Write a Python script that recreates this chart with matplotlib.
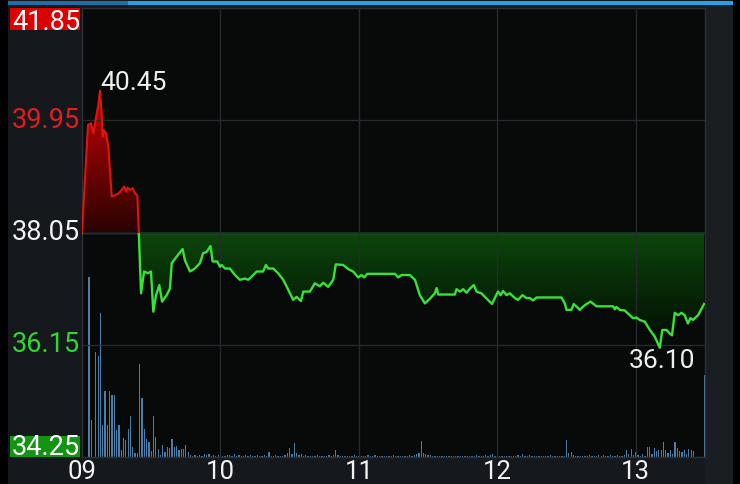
import numpy as np
import matplotlib
matplotlib.use('Agg')
import matplotlib.pyplot as plt
from matplotlib.patches import Rectangle
from matplotlib.path import Path
import matplotlib.transforms as mtransforms

plt.rcParams['font.family'] = ['Roboto', 'DejaVu Sans']

# ---------------- data ----------------
prev_close = 38.05
y_ticks = [41.85, 39.95, 38.05, 36.15, 34.25]
y_labels = ['41.85', '39.95', '38.05', '36.15', '34.25']
x_ticks = [0, 60, 120, 180, 240]
x_labels = ['09', '10', '11', '12', '13']
session_minutes = 270

price_minutes = [
    0, 2.6, 3.9, 4.9, 6.1, 7.1, 7.8, 8.5, 9.0, 9.5, 10.4, 11.4, 12.9, 14.3, 15.7,
    17.2, 18.3, 19.1, 19.8, 20.8, 22.0, 23.0, 24.0, 25.6, 26.9, 28.6, 29.9, 30.9,
    32.1, 33.5, 34.7, 36.7, 38.1, 38.9, 41.0, 43.6, 44.6, 46.8, 48.9, 51.1, 52.5,
    54.0, 55.7, 56.6, 58.6, 59.8, 60.5, 62.0, 64.1, 66.3, 68.4, 70.6, 72.0, 73.5,
    75.7, 78.5, 79.7, 80.7, 82.9, 85.0, 87.2, 89.4, 91.5, 93.0, 94.9, 95.9, 98.8,
    100.9, 103.1, 104.5, 106.7, 108.9, 110.0, 113.2, 115.4, 117.5, 119.7, 121.2,
    122.3, 123.6, 135.6, 137.0, 138.5, 142.1, 144.3, 146.4, 148.6, 150.8, 152.9,
    153.7, 154.4, 161.6, 162.3, 163.8, 165.2, 166.7, 168.1, 169.8, 171.0, 173.1,
    174.6, 176.7, 177.7, 178.9, 180.3, 181.4, 182.5, 184.0, 185.4, 187.6, 189.0,
    190.9, 192.6, 194.1, 195.5, 197.0, 207.8, 209.2, 210.0, 212.1, 213.1, 215.0,
    215.7, 217.9, 220.4, 223.0, 230.2, 230.9, 231.6, 233.1, 235.2, 237.4, 238.8,
    240.3, 241.7, 243.9, 246.1, 248.2, 250.4, 251.5, 253.3, 254.7, 255.7, 256.9,
    258.3, 259.8, 261.2, 262.6, 263.7, 264.8, 267.0, 269.6,
]
price_values = [
    38.05, 39.87, 39.90, 39.73, 40.00, 40.21, 40.45, 40.07, 39.67, 39.78, 39.73,
    39.50, 38.66, 38.68, 38.71, 38.77, 38.83, 38.74, 38.81, 38.77, 38.80, 38.71,
    38.68, 37.02, 37.39, 37.36, 37.39, 36.71, 36.99, 37.16, 36.88, 36.99, 37.10,
    37.53, 37.64, 37.77, 37.58, 37.39, 37.44, 37.53, 37.70, 37.72, 37.82, 37.56,
    37.56, 37.47, 37.50, 37.44, 37.44, 37.33, 37.25, 37.27, 37.25, 37.30, 37.39,
    37.39, 37.50, 37.44, 37.44, 37.36, 37.25, 37.08, 36.91, 36.96, 36.89, 37.05,
    37.05, 37.19, 37.14, 37.20, 37.13, 37.25, 37.51, 37.50, 37.43, 37.39, 37.29,
    37.33, 37.29, 37.35, 37.35, 37.29, 37.33, 37.33, 37.25, 36.99, 36.85, 36.93,
    37.02, 37.11, 37.00, 37.00, 37.09, 37.05, 37.09, 37.03, 37.10, 37.16, 37.05,
    37.02, 36.96, 36.88, 36.84, 36.94, 37.05, 36.99, 37.06, 36.99, 37.02, 36.94,
    36.91, 36.99, 36.94, 36.94, 36.90, 36.95, 36.95, 36.85, 36.74, 36.74, 36.84,
    36.77, 36.74, 36.82, 36.88, 36.80, 36.80, 36.75, 36.79, 36.74, 36.73, 36.65,
    36.60, 36.61, 36.57, 36.54, 36.40, 36.29, 36.10, 36.40, 36.40, 36.34, 36.31,
    36.69, 36.65, 36.69, 36.65, 36.51, 36.60, 36.57, 36.65, 36.84,
]

# one bar per minute, 09:00 .. 13:30
volume = [
    0, 0, 0, 180, 37, 0, 105, 101, 144, 32,
    66, 32, 66, 62, 62, 27, 32, 7, 19, 17,
    28, 41, 10, 4, 4, 93, 59, 28, 18, 15,
    6, 41, 20, 8, 2, 12, 5, 10, 9, 18,
    10, 11, 7, 8, 8, 12, 5, 2, 1, 2,
    1, 2, 1, 3, 2, 3, 1, 2, 1, 2,
    3, 1, 1, 2, 2, 1, 3, 1, 2, 1,
    1, 2, 1, 2, 1, 1, 2, 1, 1, 2,
    1, 5, 1, 1, 2, 1, 1, 1, 2, 4,
    9, 3, 14, 4, 2, 3, 1, 2, 1, 1,
    1, 1, 2, 1, 1, 1, 1, 2, 1, 2,
    7, 2, 1, 1, 1, 1, 1, 1, 2, 1,
    1, 1, 1, 1, 2, 1, 1, 2, 1, 1,
    1, 1, 1, 1, 1, 2, 1, 1, 1, 1,
    1, 1, 2, 1, 2, 3, 4, 16, 4, 3,
    2, 2, 1, 1, 1, 1, 1, 1, 1, 1,
    1, 1, 1, 1, 1, 1, 1, 1, 1, 1,
    1, 2, 1, 1, 1, 2, 1, 2, 3, 1,
    1, 1, 1, 1, 1, 1, 1, 1, 1, 2,
    1, 3, 1, 1, 2, 1, 1, 1, 1, 1,
    1, 1, 1, 2, 1, 1, 1, 1, 1, 1,
    17, 4, 5, 2, 1, 1, 1, 1, 1, 1,
    2, 1, 1, 1, 2, 1, 2, 1, 1, 2,
    1, 1, 2, 1, 1, 2, 7, 3, 8, 2,
    5, 2, 1, 3, 1, 10, 10, 3, 9, 6,
    7, 7, 15, 7, 4, 7, 3, 15, 9, 6,
    5, 7, 3, 8, 7, 6, 0, 0, 0, 0,
    82,
]

# ---------------- styling ----------------
W, H = 740, 484
BG_PLOT = '#080a0a'
BG_PANEL = '#15181c'
RED = '#dc1414'
GREEN = '#38e238'
GRID = '#272b2f'
BASE_LINE = '#56656d'
VOL_COLOR = '#4a7fab'

fig = plt.figure(figsize=(W / 100, H / 100), dpi=100, facecolor=BG_PANEL)


def px_rect(x0, y0, x1, y1, color, z=0):
    r = Rectangle((x0 / W, 1 - y1 / H), (x1 - x0) / W, (y1 - y0) / H,
                  transform=fig.transFigure, facecolor=color, edgecolor='none',
                  zorder=z)
    fig.add_artist(r)
    return r


# frame decorations
px_rect(0, 0, 8, H, '#000000')
px_rect(733, 0, W, H, '#000000')
px_rect(705, 5, 733, H, '#1a1d21')
px_rect(8, 1, 128, 4.5, '#1f6ea6')
px_rect(128, 1, 733, 4.5, '#2b9fe3')
px_rect(10, 8, 80, 30, '#dd0000', z=1)
px_rect(10, 436, 80, 457, '#139413', z=1)

ax_left, ax_right, ax_top, ax_bottom = 82, 705, 8, 457
ax = fig.add_axes([ax_left / W, 1 - ax_bottom / H,
                   (ax_right - ax_left) / W, (ax_bottom - ax_top) / H])
ax2 = ax.twinx()
ax.set_zorder(2)
ax2.set_zorder(1)
ax.patch.set_visible(False)
ax2.patch.set_visible(True)
ax2.patch.set_facecolor(BG_PLOT)

m = np.array(price_minutes, dtype=float)
p = np.array(price_values, dtype=float)
v = np.array(volume, dtype=float)

# volume bars
ax2.bar(np.arange(len(v)), v, width=0.55, color=VOL_COLOR, linewidth=0)
ax2.set_ylim(0, v.max() * (ax_bottom - ax_top) / 180.0)
ax2.set_yticks([])
for s in ax2.spines.values():
    s.set_visible(False)

ax.set_xlim(0, session_minutes)
ax.set_ylim(y_ticks[-1], y_ticks[0])

# grid
ax.set_yticks(y_ticks)
ax.set_xticks(x_ticks)
ax.set_xticklabels(x_labels)
ax.grid(True, color=GRID, lw=0.9)
ax.axhline(prev_close, color=BASE_LINE, lw=1.0, zorder=1.5)
for s in ax.spines.values():
    s.set_color('#2c3034')
    s.set_linewidth(1.0)
ax.tick_params(axis='y', length=0, labelleft=False)
ax.tick_params(axis='x', length=0, pad=2.5, labelsize=18.5, labelcolor='#f2f2f2')

# gradient fills
def gradient_fill(y0, y1, c_bottom, c_top, where):
    coll = ax.fill_between(m, prev_close, p, where=where, interpolate=True,
                           facecolor='none', edgecolor='none')
    path = Path.make_compound_path(*coll.get_paths())
    cb = np.array(matplotlib.colors.to_rgba(c_bottom))
    ct = np.array(matplotlib.colors.to_rgba(c_top))
    t = np.linspace(0, 1, 256)[:, None, None]
    img = cb[None, None, :] * (1 - t) + ct[None, None, :] * t
    im = ax.imshow(img, extent=[0, session_minutes, y0, y1], origin='lower',
                   aspect='auto', zorder=1, interpolation='bilinear')
    im.set_clip_path(path, ax.transData)


gradient_fill(prev_close, p.max(), '#2a0303', '#c80000', p >= prev_close)
gradient_fill(p.min(), prev_close, '#020a02', '#0c460c', p <= prev_close)
ax.set_xlim(0, session_minutes)
ax.set_ylim(y_ticks[-1], y_ticks[0])

# price line, red above previous close, green below
above = Rectangle((0, prev_close), session_minutes, 20, transform=ax.transData)
below = Rectangle((0, prev_close - 20), session_minutes, 20, transform=ax.transData)
l1, = ax.plot(m, p, color=RED, lw=1.5, zorder=3)
l1.set_clip_path(above)
l2, = ax.plot(m, p, color=GREEN, lw=1.7, zorder=3)
l2.set_clip_path(below)

# y labels at the left panel
label_styles = {
    '41.85': dict(color='#ffffff', va='top', dy=-1),
    '39.95': dict(color='#e41c1c', va='center', dy=0),
    '38.05': dict(color='#f2f2f2', va='center', dy=0),
    '36.15': dict(color='#2ed82e', va='center', dy=0),
    '34.25': dict(color='#ffffff', va='baseline', dy=2),
}
ytrans = ax.get_yaxis_transform()
for val, lab in zip(y_ticks, y_labels):
    st = label_styles[lab]
    tr = mtransforms.offset_copy(ytrans, fig=fig, x=-2, y=st['dy'], units='dots')
    ax.text(0, val, lab, transform=tr, ha='right', va=st['va'],
            color=st['color'], fontsize=19.5, clip_on=False, zorder=5)

# high / low annotations
i_hi = int(np.argmax(p))
i_lo = int(np.argmin(p))
ax.annotate(f'{p[i_hi]:.2f}', xy=(m[i_hi], p[i_hi]), xytext=(0, 1),
            textcoords='offset pixels', ha='left', va='baseline',
            color='#eeeeee', fontsize=19, zorder=5)
ax.annotate(f'{p[i_lo]:.2f}', xy=(m[i_lo], p[i_lo]), xytext=(2, -20),
            textcoords='offset pixels', ha='center', va='baseline',
            color='#eeeeee', fontsize=19, zorder=5)

fig.savefig('out.png', dpi=100, facecolor=fig.get_facecolor())
